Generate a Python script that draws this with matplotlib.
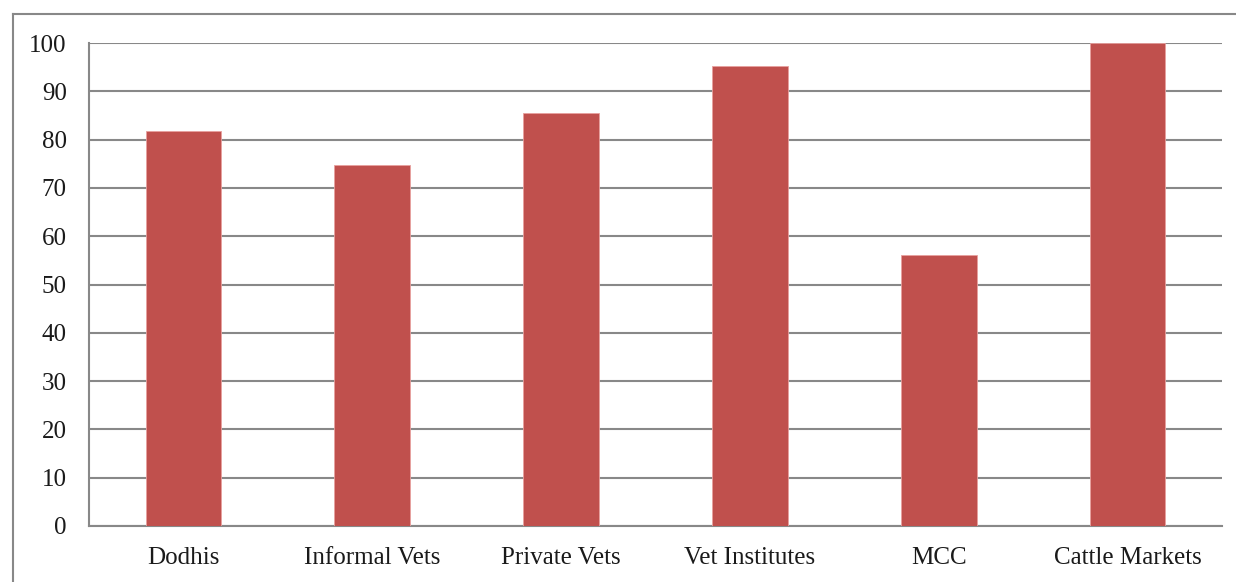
import matplotlib
matplotlib.use("Agg")
import matplotlib.pyplot as plt
from matplotlib.lines import Line2D

categories = ["Dodhis", "Informal Vets", "Private Vets", "Vet Institutes", "MCC", "Cattle Markets"]
values = [81.8, 74.7, 85.5, 95.2, 56.1, 100.0]
yticks = [0, 10, 20, 30, 40, 50, 60, 70, 80, 90, 100]

W, H = 1236, 582
fig = plt.figure(figsize=(W / 100, H / 100), dpi=100)
plt.rcParams["font.family"] = ["Liberation Serif", "DejaVu Serif"]

ax = fig.add_axes([89 / W, 1 - 526 / H, (1222 - 89) / W, (526 - 43) / H])

grid_col = "#888888"
ax.bar(range(len(categories)), values, width=0.40, color="#c0504d",
       edgecolor="#e8a09e", linewidth=0.6, zorder=3)

ax.set_xlim(-0.5, len(categories) - 0.5)
ax.set_ylim(0, 100)
ax.set_yticks(yticks)
ax.set_xticks(range(len(categories)))
ax.set_xticklabels(categories, fontsize=18, color="#1a1a1a")
ax.set_yticklabels([str(t) for t in yticks], fontsize=18, color="#1a1a1a")
ax.tick_params(axis="both", length=0)
ax.tick_params(axis="y", pad=16)
ax.tick_params(axis="x", pad=15)
ax.yaxis.grid(True, color=grid_col, linewidth=1.5, zorder=0)
ax.set_axisbelow(True)
for side in ["top", "right"]:
    ax.spines[side].set_visible(False)
for side in ["left", "bottom"]:
    ax.spines[side].set_color(grid_col)
    ax.spines[side].set_linewidth(1.5)

# outer chart frame
fx0, fy0 = 12.5 / W, 1 - 13.5 / H
fig.add_artist(Line2D([fx0, fx0], [fy0, -0.05], transform=fig.transFigure,
                      color=grid_col, linewidth=1.5))
fig.add_artist(Line2D([fx0, 1.05], [fy0, fy0], transform=fig.transFigure,
                      color=grid_col, linewidth=1.5))

fig.savefig("out.png", dpi=100, facecolor="white")
